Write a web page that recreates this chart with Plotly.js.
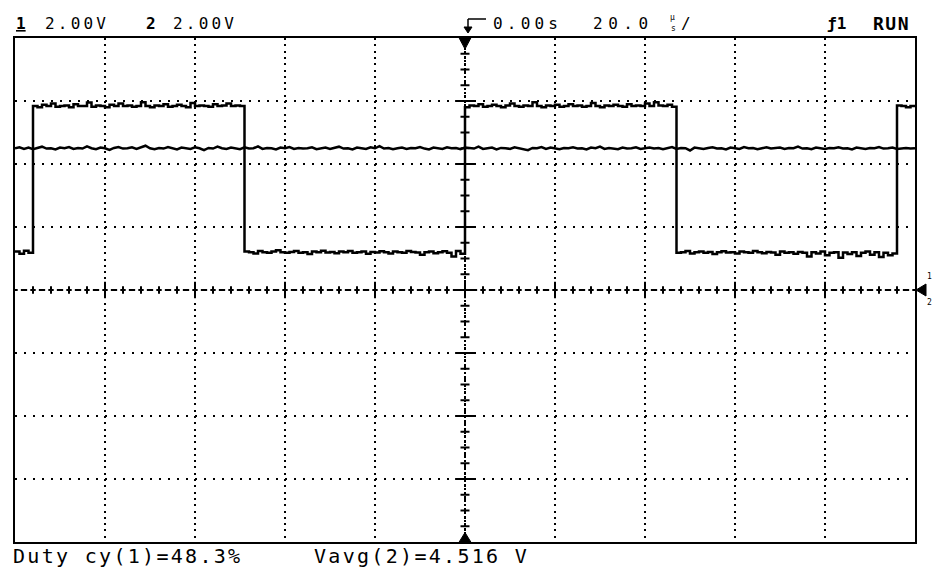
<!DOCTYPE html>
<html><head><meta charset="utf-8">
<script src="https://cdn.plot.ly/plotly-3.0.1.min.js"></script>
<style>html,body{margin:0;padding:0;background:#fff}#chart{width:934px;height:567px}</style>
</head><body><div id="chart"></div>
<script>
// ---- data (time in microseconds, amplitude in volts) ----
const timeStartUs = -100;
const sampleStepUs = 1;
const ch1Volts = [
 1.22,1.15,1.25,1.18,
 5.84,5.80,5.88,5.84,5.92,5.82,5.84,5.86,5.80,5.90,
 5.84,5.84,5.95,5.82,5.86,5.84,5.80,5.88,5.84,5.92,
 5.84,5.86,5.82,5.84,5.96,5.84,5.80,5.86,5.84,5.90,
 5.82,5.84,5.88,5.84,5.80,5.94,5.84,5.86,5.84,5.82,
 5.90,5.84,5.86,5.92,5.84,5.86,5.84,
 1.22,1.20,1.16,1.24,1.20,1.18,1.22,1.26,1.20,1.18,
 1.21,1.24,1.18,1.20,1.14,1.22,1.20,1.25,1.19,1.21,
 1.17,1.22,1.20,1.24,1.18,1.20,1.22,1.15,1.21,1.19,
 1.23,1.20,1.16,1.22,1.20,1.18,1.24,1.21,1.19,1.12,
 1.20,1.22,1.17,1.20,1.23,1.18,1.06,1.24,1.15,
 5.80,5.86,5.84,5.90,5.82,5.84,5.88,5.84,5.80,5.86,
 5.92,5.84,5.82,5.86,5.84,5.96,5.84,5.80,5.86,5.84,
 5.88,5.82,5.84,5.90,5.84,5.86,5.82,5.84,5.94,5.84,
 5.80,5.86,5.84,5.88,5.84,5.82,5.90,5.84,5.86,5.84,
 5.92,5.84,5.96,5.86,5.84,5.88,5.82,
 1.18,1.20,1.24,1.16,1.20,1.22,1.18,1.21,1.14,1.20,
 1.23,1.19,1.20,1.16,1.22,1.20,1.18,1.24,1.20,1.17,
 1.21,1.19,1.12,1.22,1.18,1.20,1.15,1.21,1.18,1.06,
 1.20,1.16,1.22,1.10,1.18,1.20,1.02,1.19,1.14,1.20,
 1.08,1.18,1.22,1.12,1.20,1.05,1.18,1.10,1.16,
 5.86,5.84,5.80,5.84,5.82
];
const ch2Volts = [
 4.50,4.53,4.48,4.52,4.47,4.51,4.55,4.49,4.50,4.46,4.52,4.50,4.54,4.48,4.51,4.49,4.56,4.50,4.47,4.52,
 4.50,4.45,4.51,4.54,4.49,4.50,4.53,4.48,4.52,4.58,4.50,4.47,4.51,4.49,4.54,4.50,4.46,4.52,4.50,4.48,
 4.53,4.50,4.44,4.51,4.49,4.55,4.50,4.48,4.52,4.50,4.47,4.53,4.49,4.50,4.56,4.48,4.51,4.50,4.46,4.52,
 4.50,4.54,4.48,4.51,4.49,4.50,4.53,4.47,4.50,4.52,4.48,4.51,4.55,4.49,4.50,4.46,4.52,4.50,4.48,4.53,
 4.50,4.57,4.49,4.51,4.47,4.50,4.52,4.48,4.51,4.50,4.54,4.49,4.46,4.52,4.50,4.48,4.53,4.50,4.51,4.47,
 4.52,4.50,4.49,4.55,4.48,4.50,4.52,4.46,4.51,4.50,4.48,4.53,4.50,4.49,4.44,4.51,4.50,4.54,4.48,4.52,
 4.50,4.47,4.51,4.50,4.53,4.49,4.50,4.46,4.52,4.50,4.55,4.48,4.51,4.50,4.47,4.52,4.49,4.50,4.53,4.48,
 4.50,4.52,4.49,4.51,4.47,4.50,4.54,4.48,4.51,4.50,4.43,4.52,4.50,4.48,4.51,4.53,4.49,4.50,4.46,4.52,
 4.50,4.48,4.54,4.50,4.51,4.47,4.50,4.53,4.49,4.50,4.52,4.48,4.51,4.50,4.55,4.49,4.50,4.47,4.52,4.50,
 4.48,4.51,4.50,4.53,4.49,4.50,4.46,4.52,4.50,4.48,4.51,4.50,4.54,4.49,4.50,4.52,4.48,4.50,4.51,4.49,
 4.50
];
const channelScaleLabels = ['2.00V', '2.00V'];
const channelNames = ['1', '2'];
const timeLabels = ['0.00s', '20.0'];
const statusLabels = ['ƒ1', 'RUN'];
const measureLabels = ['Duty cy(1)=48.3%', 'Vavg(2)=4.516 V'];

// ---- build ----
const ch1Time = ch1Volts.map((_, i) => timeStartUs + i * sampleStepUs);
const ch2Time = ch2Volts.map((_, i) => timeStartUs + i * sampleStepUs);

const FONT = 'DejaVu Sans Mono';
const L = 15, R = 915, T = 38, B = 542;
const PX = x => (x - L) / (R - L);
const PY = y => (B - y) / (B - T);

function ann(text, px, py, size, extra) {
  return Object.assign({
    xref: 'paper', yref: 'paper', x: PX(px), y: PY(py),
    xanchor: 'left', yanchor: 'middle', text: text, showarrow: false,
    borderpad: 0,
    font: {family: FONT, size: size, color: '#000'}
  }, extra || {});
}
const sp = (s, n) => '<span style="letter-spacing:' + n + 'px">' + s + '</span>';

const annotations = [
  ann('<b><span style="text-decoration:underline">' + channelNames[0] + '</span></b>', 15, 23, 16),
  ann(sp(channelScaleLabels[0], 3.2), 44, 23, 16),
  ann('<b>' + channelNames[1] + '</b>', 145, 23, 16),
  ann(sp(channelScaleLabels[1], 3.2), 172, 23, 16),
  ann(sp(timeLabels[0], 4.2), 492, 23, 16),
  ann(sp(timeLabels[1], 5.5), 592, 23, 16),
  ann('µ', 669, 18, 8),
  ann('s', 670, 28, 8),
  ann('/', 680, 23, 16),
  ann('<b>' + statusLabels[0] + '</b>', 826, 23, 16),
  ann('<b>' + sp(statusLabels[1], 1.5) + '</b>', 872, 23, 18),
  ann(sp(measureLabels[0], 2.3), 12, 556, 20),
  ann(sp(measureLabels[1], 2.3), 313, 556, 20),
  ann(channelNames[0], 926, 276, 8),
  ann(channelNames[1], 926, 302, 8)
];

const shapes = [];
const ln = (x0, y0, x1, y1, w, dash) => shapes.push({type: 'line', xref: 'x', yref: 'y', x0, y0, x1, y1,
  line: {color: '#000', width: w || 2, dash: dash || 'solid'}});
// vertical centre axis (dotted) and ticks every 1/4 division
ln(0, -8, 0, 8, 2, '2px,2px');
for (let v = -7.5; v <= 7.5; v += 0.5) {
  const major = Math.abs(v % 2) < 1e-9;
  const hw = major ? 2.2 : 1.0;
  ln(-hw, v, hw, v, 2);
}
// horizontal centre axis: crosses every 1/5 division with dashes between
for (let t = -100; t <= 100; t += 4) {
  const major = Math.abs(t % 20) < 1e-9;
  const hh = major ? 0.26 : 0.12;
  if (t > -100 && t < 100) ln(t, -hh, t, hh, 2);
  ln(Math.max(-100, t - 0.6), 0, Math.min(100, t + 0.6), 0, 2);
  if (t < 100) ln(t + 1.3, 0, t + 2.7, 0, 2);
}
// trigger position markers
shapes.push({type: 'path', xref: 'x', yref: 'y', path: 'M -1.3,8 L 1.3,8 L 0,7.65 Z', fillcolor: '#000', line: {color: '#000', width: 1}});
shapes.push({type: 'path', xref: 'x', yref: 'y', path: 'M -1.3,-8 L 1.3,-8 L 0,-7.7 Z', fillcolor: '#000', line: {color: '#000', width: 1}});
// ground reference marker on the right
shapes.push({type: 'path', xref: 'paper', yref: 'paper',
  path: 'M ' + PX(916) + ',' + PY(290) + ' L ' + PX(926) + ',' + PY(284) + ' L ' + PX(926) + ',' + PY(296) + ' Z',
  fillcolor: '#000', line: {color: '#000', width: 1}});
// trigger symbol in header
shapes.push({type: 'line', xref: 'paper', yref: 'paper', x0: PX(468), y0: PY(19), x1: PX(486), y1: PY(19), line: {color: '#000', width: 1.5}});
shapes.push({type: 'line', xref: 'paper', yref: 'paper', x0: PX(468), y0: PY(19), x1: PX(468), y1: PY(31), line: {color: '#000', width: 1.5}});
shapes.push({type: 'path', xref: 'paper', yref: 'paper',
  path: 'M ' + PX(464) + ',' + PY(27) + ' L ' + PX(472) + ',' + PY(27) + ' L ' + PX(468) + ',' + PY(33) + ' Z',
  fillcolor: '#000', line: {color: '#000', width: 1}});

const traces = [
  {x: ch1Time, y: ch1Volts, type: 'scatter', mode: 'lines', name: 'Channel 1',
   line: {color: '#000', width: 2.5, shape: 'hv'}},
  {x: ch2Time, y: ch2Volts, type: 'scatter', mode: 'lines', name: 'Channel 2',
   line: {color: '#000', width: 2.5}}
];

const layout = {
  width: 934, height: 567,
  margin: {l: L, r: 934 - R, t: T, b: 567 - B, pad: 0},
  paper_bgcolor: '#fff', plot_bgcolor: '#fff',
  showlegend: false, hovermode: false,
  xaxis: {range: [-100, 100], dtick: 20, tick0: 0, showgrid: true, gridcolor: '#000', gridwidth: 2,
          griddash: '2px,4.3px', zeroline: false, showticklabels: false, ticks: '',
          showline: true, mirror: true, linecolor: '#000', linewidth: 2, fixedrange: true},
  yaxis: {range: [-8, 8], dtick: 2, tick0: 0, showgrid: true, gridcolor: '#000', gridwidth: 2,
          griddash: '2px,7px', zeroline: false, showticklabels: false, ticks: '',
          showline: true, mirror: true, linecolor: '#000', linewidth: 2, fixedrange: true},
  annotations: annotations,
  shapes: shapes
};

Plotly.newPlot('chart', traces, layout, {staticPlot: true, displayModeBar: false});
</script>
</body></html>
